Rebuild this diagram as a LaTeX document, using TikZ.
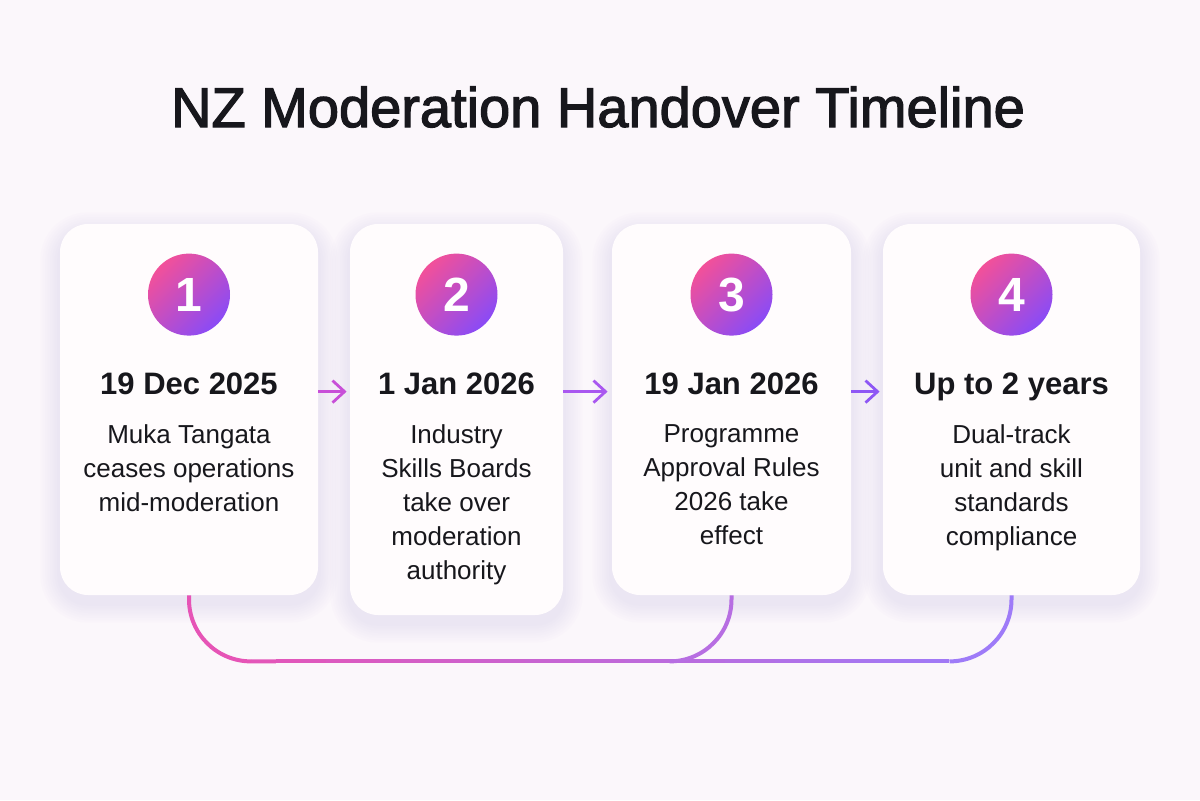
\documentclass[tikz,border=0pt]{standalone}
\usepackage{fontspec}
\setmainfont{Liberation Sans}
\newfontfamily\headfont[FakeBold=2.2]{Liberation Sans}
\usepackage{tikz}
\usetikzlibrary{positioning,calc,backgrounds,arrows.meta}
\definecolor{bgc}{HTML}{FBF7FB}
\definecolor{cardc}{HTML}{FFFCFD}
\definecolor{inkc}{HTML}{17171C}
\definecolor{shadowc}{HTML}{CDB6E6}
\definecolor{badgepink}{HTML}{F2509A}
\definecolor{badgeviolet}{HTML}{8A4BF6}
\definecolor{railpink}{HTML}{E654B6}
\definecolor{railviolet}{HTML}{9E7BF8}
\definecolor{arrowa}{HTML}{C84FD8}
\definecolor{arrowb}{HTML}{A957F0}
\definecolor{arrowc}{HTML}{8E57F5}
\def\cardh{185.5pt}
\def\bend{31pt}

\begin{document}
\begin{tikzpicture}[x=0.5pt, y=0.5pt,
  card/.style={fill=cardc, rounded corners=14pt, inner sep=0, minimum height=\cardh},
  badge/.style={circle, minimum size=41pt, inner sep=0, text=white,
    top color=badgepink, bottom color=badgeviolet, shading angle=45,
    font=\fontsize{24}{24}\selectfont\bfseries},
  datetxt/.style={text=inkc, inner sep=0, font=\fontsize{15.5}{18}\selectfont\bfseries},
  bodytxt/.style={text=inkc, inner sep=0, align=center, font=\fontsize{13}{17}\selectfont},
  flow/.style={line width=1.4pt, -{Straight Barb[length=6pt, width=11pt]}},
  rail/.style={line width=2pt}]
\useasboundingbox (0,0) rectangle (1200,800);
%\draw[step=100, black!20] (0,0) grid (1200,800);

% title
\node[text=inkc, anchor=base, font=\headfont\fontsize{28}{30}\selectfont] (ttl) at (598,673) {NZ Moderation Handover Timeline};

% cards
\node[card, minimum width=129pt] (c1) at (189,390.5) {};
\node[card, minimum width=106.5pt, minimum height=195.5pt] (c2) at (456.5,380.5) {};
\node[card, minimum width=119.5pt] (c3) at (731.5,390.5) {};
\node[card, minimum width=128.5pt] (c4) at (1011.5,390.5) {};

% badges
\node[badge] (b1) at ($(c1.north)+(0,-71)$) {1};
\node[badge] (b2) at ($(c2.north)+(0,-71)$) {2};
\node[badge] (b3) at ($(c3.north)+(0,-71)$) {3};
\node[badge] (b4) at ($(c4.north)+(0,-71)$) {4};

% dates
\node[datetxt, anchor=base] (d1) at ($(c1.north)+(0,-171)$) {19 Dec 2025};
\node[datetxt, anchor=base] (d2) at ($(c2.north)+(0,-171)$) {1 Jan 2026};
\node[datetxt, anchor=base] (d3) at ($(c3.north)+(0,-171)$) {19 Jan 2026};
\node[datetxt, anchor=base] (d4) at ($(c4.north)+(0,-171)$) {Up to 2 years};

% texts
\node[bodytxt, anchor=north] (t1) at ($(c1.north)+(0,-201)$) {Muka Tangata\\ceases operations\\mid-moderation};
\node[bodytxt, anchor=north] (t2) at ($(c2.north)+(0,-201)$) {Industry\\Skills Boards\\take over\\moderation\\authority};
\node[bodytxt, anchor=north] (t3) at ($(c3.north)+(0,-201)$) {Programme\\Approval Rules\\2026 take\\effect};
\node[bodytxt, anchor=north] (t4) at ($(c4.north)+(0,-201)$) {Dual-track\\unit and skill\\standards\\compliance};

% arrows between cards
\draw[flow, arrowa] ($(c1.east |- d1.base)+(0,3)$) -- ($(c2.west |- d1.base)+(-3,3)$);
\draw[flow, arrowb] ($(c2.east |- d2.base)+(0,3)$) -- ($(c3.west |- d2.base)+(-4,3)$);
\draw[flow, arrowc] ($(c3.east |- d3.base)+(0,3)$) -- ($(c4.west |- d3.base)+(-3,3)$);

% bottom rail
\coordinate (r1) at ($(c1.south)+(62,-66)$);
\coordinate (r3) at ($(c3.south)+(-62,-66)$);
\coordinate (r4) at ($(c4.south)+(-62,-66)$);
\draw[rail, railpink] (c1.south) -- ++(0,-4) arc[start angle=180, end angle=270, radius=\bend];
\foreach \i in {0,...,27}{
  \pgfmathsetmacro\f{4+92*\i/27}
  \draw[rail, railviolet!\f!railpink] ($(r1)!\i/28!(r4)$) -- ($(r1)!\i/28+1/28!(r4)$);
}
\draw[rail, railviolet!66!railpink] (r3) arc[start angle=270, end angle=360, radius=\bend] -- (c3.south);
\draw[rail, railviolet] (r4) arc[start angle=270, end angle=360, radius=\bend] -- (c4.south);

% background and soft shadows
\begin{scope}[on background layer]
\fill[bgc] (0,0) rectangle (1200,800);
\foreach \c in {c1,c2,c3,c4}{
  \foreach \s in {1,...,8}{
    \pgfmathsetmacro\rc{14+\s*1.2}
    \fill[shadowc, opacity=0.03, rounded corners=\rc pt]
      ($(\c.south west)+(-\s*2.4,-\s*2.4-8)$) rectangle ($(\c.north east)+(\s*2.4,\s*2.4-8)$);
  }
}
\end{scope}
\end{tikzpicture}
\end{document}
